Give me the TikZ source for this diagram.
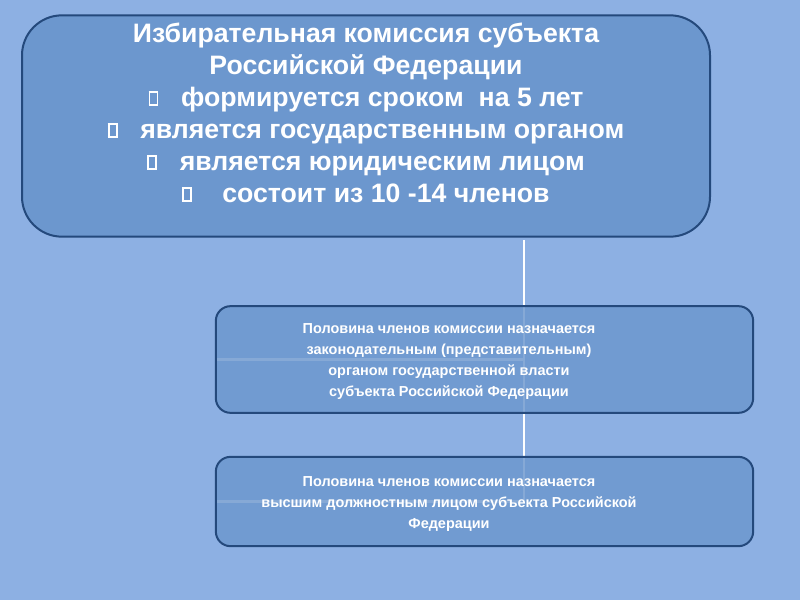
\documentclass[tikz,border=0pt]{standalone}
\usepackage{fontspec}
\setmainfont{Liberation Sans}
\usepackage{tikz}
\usetikzlibrary{positioning, calc, backgrounds}
\definecolor{ecbg}{HTML}{8DB0E3}
\definecolor{ecfill}{HTML}{6C97CE}
\definecolor{ecedge}{HTML}{24497C}
\tikzset{
  ec head/.style={draw=ecedge, fill=ecfill, rounded corners=30pt, line width=1.5pt,
    minimum width=516pt, minimum height=166pt, inner sep=0pt},
  ec leg/.style={draw=ecedge, fill=ecfill, fill opacity=0.82,
    rounded corners=11pt, line width=1.5pt, minimum width=403pt, inner sep=0pt},
  ec text/.style={align=center, text=white, inner sep=0pt,
    font=\fontsize{20}{24}\selectfont\bfseries},
  ec small/.style={align=center, text=white, inner sep=0pt,
    font=\fontsize{10.85}{15.6}\selectfont\bfseries},
  ec link/.style={draw=white, line width=2.2pt},
}
% empty square bullet, as the slide shows it
\newcommand{\bul}{\raisebox{1.5pt}{\setlength\fboxsep{0pt}\setlength\fboxrule{1.4pt}%
  \fbox{\phantom{\rule{4.6pt}{8.2pt}}}}\hspace{17pt}}

\begin{document}
\begin{tikzpicture}[x=0.75pt, y=-0.75pt]
 \useasboundingbox (0,0) rectangle (800,600);
 \node[ec head] (comm) at (366,126) {};
 \node[ec text, below=6pt of comm.north] (commtxt)
   {Избирательная комиссия субъекта\\
    Российской Федерации\\
    \bul формируется сроком\ \ на 5 лет\\
    \bul является государственным органом\\
    \bul является юридическим лицом\\
    \bul\ состоит из 10 -14 членов};
 \node[ec leg, minimum height=80pt] (leg1) at (484.5,359.5) {};
 \node[ec small] (leg1txt) at (449,361.5)
   {Половина членов комиссии назначается\\
    законодательным (представительным)\\
    органом государственной власти\\
    субъекта Российской Федерации};
 \node[ec leg, minimum height=67pt] (leg2) at (484.5,501.5) {};
 \node[ec small] (leg2txt) at (449,504)
   {Половина членов комиссии назначается\\
    высшим должностным лицом субъекта Российской\\
    Федерации};
 \coordinate (trunk) at (524,240);
 \begin{scope}[on background layer]
  \fill[ecbg] (0,0) rectangle (800,600);
  \draw[ec link] (trunk) -- (trunk |- leg2.west);
  \draw[ec link] (trunk |- leg1.west) -- (leg1.west);
  \draw[ec link] (trunk |- leg2.west) -- (leg2.west);
 \end{scope}
\end{tikzpicture}
\end{document}
